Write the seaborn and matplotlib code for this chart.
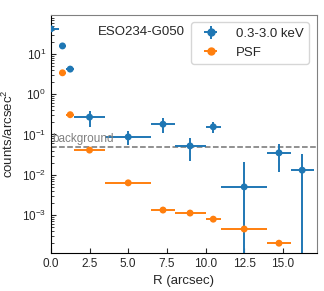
import numpy as np
import pandas as pd
import seaborn as sns
import matplotlib.pyplot as plt

# radial profile, 0.3-3.0 keV
r_src = [0.0, 0.75, 1.25, 2.5, 5.0, 7.25, 9.0, 10.5, 12.5, 14.75, 16.25]
r_src_err = [0.5, 0.25, 0.25, 1.0, 1.5, 0.75, 1.0, 0.5, 1.5, 0.75, 0.75]
cts_src = [42.0, 15.8, 4.2, 0.27, 0.087, 0.18, 0.052, 0.155, 0.005, 0.035, 0.013]
cts_src_err = [3.0, 1.5, 0.6, 0.12, 0.032, 0.07, 0.03, 0.045, 0.016, 0.023, 0.02]

# PSF profile
r_psf = [0.75, 1.25, 2.5, 5.0, 7.25, 9.0, 10.5, 12.5, 14.75]
r_psf_err = [0.25, 0.25, 1.0, 1.5, 0.75, 1.0, 0.5, 1.5, 0.75]
cts_psf = [3.4, 0.31, 0.041, 0.0063, 0.00133, 0.00112, 0.00079, 0.00045, 0.0002]

background = 0.05
name = 'ESO234-G050'

sns.set_style('ticks')
plt.rcParams['font.family'] = ['Liberation Sans', 'DejaVu Sans']
plt.rcParams['mathtext.fontset'] = 'custom'
plt.rcParams['mathtext.rm'] = 'Liberation Sans'

blue = '#1f77b4'
orange = '#ff7f0e'

src = pd.DataFrame({'r': r_src, 'cts': cts_src})
psf = pd.DataFrame({'r': r_psf, 'cts': cts_psf})

fig = plt.figure(figsize=(3.24, 2.91), dpi=100)
ax = fig.add_axes([0.157, 0.131, 0.821, 0.819])

eb1 = ax.errorbar(r_src, cts_src, xerr=r_src_err, yerr=cts_src_err, fmt='none',
                  ecolor=blue, elinewidth=1.4, zorder=2)
eb2 = ax.errorbar(r_psf, cts_psf, xerr=r_psf_err, fmt='none',
                  ecolor=orange, elinewidth=1.4, zorder=2)
sns.scatterplot(data=src, x='r', y='cts', color=blue, s=25, edgecolor='none',
                ax=ax, zorder=3)
sns.scatterplot(data=psf, x='r', y='cts', color=orange, s=25, edgecolor='none',
                ax=ax, zorder=3)

ax.axhline(background, color='0.45', ls='--', lw=1.1, zorder=1)
ax.text(0.1, background * 1.08, 'background', color='0.5', fontsize=8.5,
        va='bottom', ha='left')
ax.text(0.177, 0.927, name, transform=ax.transAxes, fontsize=9.5, va='center')

ax.set_yscale('log')
ax.set_xlim(0, 17.2)
ax.set_ylim(1.15e-4, 95)
ax.set_xticks([0, 2.5, 5, 7.5, 10, 12.5, 15])
ax.set_xticklabels(['0.0', '2.5', '5.0', '7.5', '10.0', '12.5', '15.0'])
ax.set_xlabel('R (arcsec)', fontsize=9.5)
ax.set_ylabel('counts/arcsec$^2$', fontsize=9.5)
ax.tick_params(axis='both', which='both', direction='in', labelsize=8.5,
               top=False, right=False)
ax.tick_params(which='major', length=3.5)
ax.tick_params(which='minor', length=2)
for s in ['top', 'right']:
    ax.spines[s].set_color('0.5')
for s in ['left', 'bottom']:
    ax.spines[s].set_color('black')

h1 = plt.Line2D([], [], marker='o', ls='none', color=blue, ms=5)
h2 = plt.Line2D([], [], marker='o', ls='none', color=orange, ms=5)
ax.legend([(eb1, h1), (eb2, h2)], ['0.3-3.0 keV', 'PSF'], loc='upper right',
          fontsize=9.5, frameon=True, borderaxespad=0.6, handlelength=2.2)

fig.savefig('out.png', dpi=100)
